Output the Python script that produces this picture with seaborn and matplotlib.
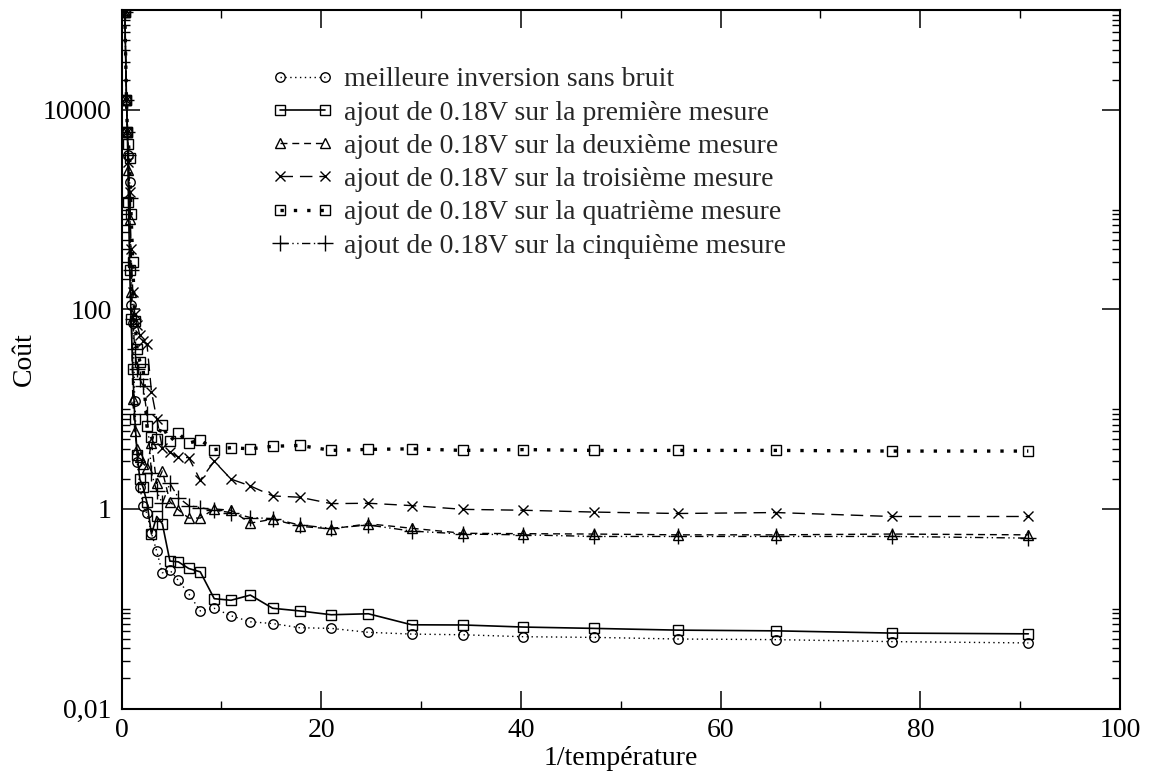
import matplotlib
matplotlib.use("Agg")
import matplotlib.pyplot as plt
import seaborn as sns
from matplotlib.ticker import FixedLocator, FixedFormatter, NullFormatter

# ---- data -------------------------------------------------------------
inv_temp = [0.33, 0.50, 0.59, 0.70, 0.82, 0.96, 1.13, 1.33, 1.57, 1.84, 2.17,
            2.55, 3.00, 3.53, 4.09, 4.85, 5.69, 6.73, 7.89, 9.29, 10.97, 12.90,
            15.14, 17.85, 21.01, 24.72, 29.06, 34.23, 40.24, 47.35, 55.70,
            65.55, 77.13, 90.82]

sans_bruit = [95000, 12500, 6000, 3500, 1900, 111, 73, 12, 2.96, 1.67, 1.07,
              0.9, 0.57, 0.376, 0.229, 0.243, 0.192, 0.141, 0.095, 0.101,
              0.085, 0.074, 0.071, 0.0645, 0.0635, 0.058, 0.0557, 0.0548,
              0.0524, 0.0516, 0.0497, 0.049, 0.0468, 0.0454]

premiere = [95000, 12500, 6000, 1200, 250, 80, 25, 8, 3.5, 1.98, 1.64,
            1.16, 0.56, 0.84, 0.71, 0.30, 0.295, 0.253, 0.234, 0.126,
            0.1215, 0.137, 0.101, 0.095, 0.087, 0.089, 0.069, 0.0687,
            0.0655, 0.0635, 0.061, 0.060, 0.057, 0.056]

deuxieme = [95000, 12500, 6000, 2500, 800, 150, 12.6, 6, 4, 3.3, 2.85,
            2.6, 4.6, 1.8, 2.4, 1.18, 0.98, 0.81, 0.81, 1.0,
            0.97, 0.72, 0.79, 0.67, 0.63, 0.71, 0.64, 0.57,
            0.565, 0.56, 0.55, 0.55, 0.56, 0.55]

troisieme = [95000, 12500, 6000, 3000, 1500, 400, 150, 90, 70, 55, 48,
             45, 15, 8.0, 4.1, 3.7, 3.3, 3.27, 1.94, 3.0,
             1.99, 1.7, 1.35, 1.31, 1.13, 1.14, 1.08, 0.99,
             0.97, 0.93, 0.90, 0.92, 0.84, 0.84]

quatrieme = [95000, 12500, 6000, 4500, 3300, 900, 300, 76, 40, 30, 25,
             6.7, 5.2, 5.05, 6.9, 4.8, 5.75, 4.57, 4.9, 3.93,
             4.11, 4.0, 4.24, 4.33, 3.86, 3.95, 4.0, 3.86,
             3.93, 3.86, 3.86, 3.86, 3.8, 3.8]

cinquieme = [95000, 12500, 6000, 3500, 1300, 250, 80, 40, 25, 20, 17,
             8.9, 2.3, 1.5, 1.14, 1.8, 1.3, 1.08, 1.03, 0.97,
             0.92, 0.82, 0.80, 0.69, 0.64, 0.69, 0.60, 0.56,
             0.55, 0.53, 0.53, 0.53, 0.53, 0.51]

series_labels = [
    "meilleure inversion sans bruit",
    "ajout de 0.18V sur la première mesure",
    "ajout de 0.18V sur la deuxième mesure",
    "ajout de 0.18V sur la troisième mesure",
    "ajout de 0.18V sur la quatrième mesure",
    "ajout de 0.18V sur la cinquième mesure",
]

x_major = [0, 20, 40, 60, 80, 100]
x_major_labels = ["0", "20", "40", "60", "80", "100"]
x_minor = [10, 30, 50, 70, 90]
y_major = [0.01, 1, 100, 10000]
y_major_labels = ["0,01", "1", "100", "10000"]
y_minor = [0.02, 0.03, 0.04, 0.05, 0.06, 0.07, 0.08, 0.09, 0.1,
           2, 3, 4, 5, 6, 7, 8, 9, 10,
           200, 300, 400, 500, 600, 700, 800, 900, 1000,
           20000, 30000, 40000, 50000, 60000, 70000, 80000, 90000, 100000]

# ---- styling -------------------------------------------------------------
sns.set_theme(style="ticks")
plt.rcParams["font.family"] = ["Liberation Serif", "DejaVu Serif"]
FS = 20
FS_TICK = 20

fig = plt.figure(figsize=(11.49, 7.76), dpi=100)
ax = fig.add_axes([121.5 / 1149, (776 - 708.5) / 776, 998.5 / 1149, 698.5 / 776])

styles = [
    dict(marker="o", linestyle=(0, (1, 2.5)), linewidth=1.0, markersize=6.8),
    dict(marker="s", linestyle="-", linewidth=1.2, markersize=6.5),
    dict(marker="^", linestyle=(0, (5, 3.5)), linewidth=1.0, markersize=7.5),
    dict(marker="x", linestyle=(0, (9, 5)), linewidth=1.0, markersize=6.5),
    dict(marker="s", linestyle=(0, (1, 3)), linewidth=2.4, markersize=6.5),
    dict(marker="+", linestyle=(0, (6, 2.5, 1, 2.5, 1, 2.5)), linewidth=1.0, markersize=11),
]
all_series = [sans_bruit, premiere, deuxieme, troisieme, quatrieme, cinquieme]

for vals, lab, st in zip(all_series, series_labels, styles):
    sns.lineplot(x=inv_temp, y=vals, ax=ax, color="black", label=lab,
                 estimator=None, sort=False,
                 markerfacecolor="none", markeredgecolor="black",
                 markeredgewidth=1.0, **st)

ax.set_yscale("log")
ax.set_xlim(0, 100)
ax.set_ylim(0.01, 100000)

ax.xaxis.set_major_locator(FixedLocator(x_major))
ax.xaxis.set_major_formatter(FixedFormatter(x_major_labels))
ax.xaxis.set_minor_locator(FixedLocator(x_minor))
ax.xaxis.set_minor_formatter(NullFormatter())
ax.yaxis.set_major_locator(FixedLocator(y_major))
ax.yaxis.set_major_formatter(FixedFormatter(y_major_labels))
ax.yaxis.set_minor_locator(FixedLocator(y_minor))
ax.yaxis.set_minor_formatter(NullFormatter())

ax.tick_params(which="both", direction="in", top=True, right=True,
               colors="black", labelsize=FS_TICK)
ax.tick_params(which="major", length=13, width=1.1, pad=7)
ax.tick_params(which="minor", length=6, width=1.0)
for sp in ax.spines.values():
    sp.set_linewidth(1.5)
    sp.set_color("black")

ax.set_xlabel("1/température", fontsize=FS, color="black", labelpad=2)
ax.set_ylabel("Coût", fontsize=FS, color="black", labelpad=4)

leg = ax.legend(loc="upper left", bbox_to_anchor=((272 - 121.5) / 998.5, (708.5 - 67) / 698.5),
                frameon=False, numpoints=2, handlelength=2.2, handletextpad=0.4,
                labelspacing=0.28, borderpad=0, borderaxespad=0, fontsize=FS)

fig.savefig("out.png", dpi=100, facecolor="white")
